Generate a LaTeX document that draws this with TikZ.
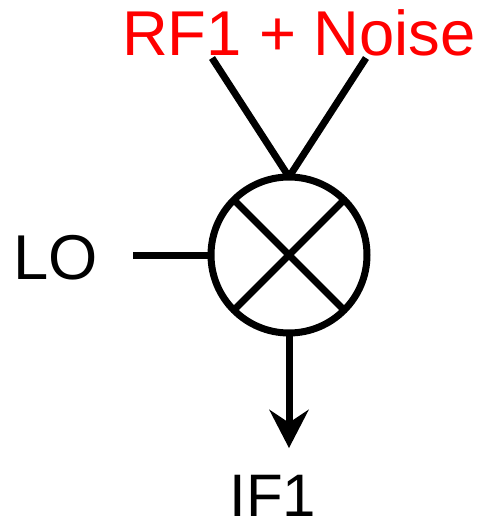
\documentclass[tikz,border=0pt]{standalone}
\usepackage{fontspec}
\setmainfont{Liberation Sans}
\usetikzlibrary{arrows.meta}
\tikzset{
	wire/.style={line width=5.25pt, black},
	label/.style={inner sep=0pt, font=\fontsize{47.5}{48}\selectfont},
}
\begin{document}
\begin{tikzpicture}[x=0.75pt, y=-0.75pt]
	\useasboundingbox (0, 0) rectangle (477, 522);
	
	\node [circle, draw, line width=5.25pt, outer sep=0pt, minimum size=117pt, inner sep=0pt] (mixer) at (289, 255) {};	% Mischer
	\draw [wire] (mixer.45) -- (mixer.225);
	\draw [wire] (mixer.135) -- (mixer.315);
	
	\node [label, text=red, anchor=base] (rf) at (299, 55) {RF1 + Noise};
	\node [label, anchor=base] (lo) at (56, 279) {LO};
	\node [label, font=\fontsize{45}{46}\selectfont, anchor=base] (if) at (273, 516) {IF1};
	
	\coordinate (rfa) at (212, 58);
	\coordinate (rfb) at (366, 58);
	\coordinate (loend) at (133, 255);
	\coordinate (ifend) at (289, 448);
	
	\draw [wire] (rfa) -- (mixer.north);
	\draw [wire] (rfb) -- (mixer.north);
	\draw [wire] (loend) -- (mixer.west);
	\draw [wire, -{Stealth[length=29pt, width=30pt, inset=10pt, line width=0pt]}] (mixer.south) -- (ifend);
\end{tikzpicture}
\end{document}
